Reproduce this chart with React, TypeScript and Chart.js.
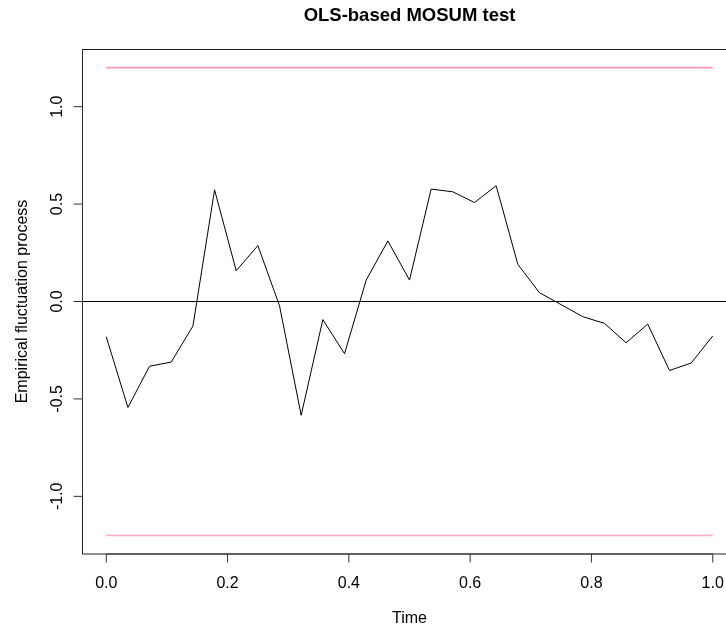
import React, { useEffect, useRef } from "react";
import { Chart, registerables } from "chart.js";

Chart.register(...registerables);

const timePoints: number[] = [
  0.0, 0.0357, 0.0714, 0.1071, 0.1429, 0.1786, 0.2143, 0.25, 0.2857, 0.3214,
  0.3571, 0.3929, 0.4286, 0.4643, 0.5, 0.5357, 0.5714, 0.6071, 0.6429, 0.6786,
  0.7143, 0.75, 0.7857, 0.8214, 0.8571, 0.8929, 0.9286, 0.9643, 1.0,
];
const fluctuation: number[] = [
  -0.181, -0.544, -0.332, -0.311, -0.126, 0.573, 0.158, 0.287, -0.022, -0.584,
  -0.093, -0.268, 0.11, 0.311, 0.11, 0.577, 0.563, 0.508, 0.594, 0.191,
  0.045, -0.016, -0.078, -0.112, -0.212, -0.116, -0.354, -0.316, -0.177,
];
const boundary = 1.2;
const xTicks: number[] = [0, 0.2, 0.4, 0.6, 0.8, 1.0];
const yTicks: number[] = [-1.0, -0.5, 0.0, 0.5, 1.0];
const xRange: [number, number] = [-0.04, 1.04];
const yRange: [number, number] = [-1.296, 1.296];

const titleText = "OLS-based MOSUM test";
const xTitle = "Time";
const yTitle = "Empirical fluctuation process";

const CANVAS_W = 790;
const CANVAS_H = 627;
const FONT = "'Liberation Sans', Arial, Helvetica, sans-serif";

const axesPlugin = {
  id: "rAxes",
  afterDraw(chart: any) {
    const { ctx, chartArea, scales } = chart;
    const xs = scales.x;
    const ys = scales.y;
    const L = Math.round(chartArea.left) + 0.5;
    const T = Math.round(chartArea.top) + 0.5;
    const R = Math.round(chartArea.right) + 0.5;
    const B = Math.round(chartArea.bottom);
    ctx.save();
    ctx.strokeStyle = "#222";
    ctx.lineWidth = 1;
    ctx.strokeRect(L, T, R - L, B - T);

    ctx.strokeStyle = "#333";
    ctx.beginPath();
    const x0 = xs.getPixelForValue(xTicks[0]);
    const x1 = xs.getPixelForValue(xTicks[xTicks.length - 1]);
    ctx.moveTo(x0, B);
    ctx.lineTo(x1, B);
    xTicks.forEach((v) => {
      const px = xs.getPixelForValue(v);
      ctx.moveTo(px, B);
      ctx.lineTo(px, B + 8.5);
    });
    const y0 = ys.getPixelForValue(yTicks[0]);
    const y1 = ys.getPixelForValue(yTicks[yTicks.length - 1]);
    ctx.moveTo(L, y0);
    ctx.lineTo(L, y1);
    yTicks.forEach((v) => {
      const py = ys.getPixelForValue(v);
      ctx.moveTo(L, py);
      ctx.lineTo(L - 9, py);
    });
    ctx.stroke();

    ctx.fillStyle = "#000";
    ctx.font = `16px ${FONT}`;
    ctx.textAlign = "center";
    ctx.textBaseline = "alphabetic";
    xTicks.forEach((v) => {
      ctx.fillText(v.toFixed(1), xs.getPixelForValue(v), 588);
    });
    yTicks.forEach((v) => {
      const py = ys.getPixelForValue(v);
      ctx.save();
      ctx.translate(61.7, py);
      ctx.rotate(-Math.PI / 2);
      ctx.fillText(v.toFixed(1), 0, 0);
      ctx.restore();
    });

    ctx.fillText(xTitle, (chartArea.left + chartArea.right) / 2, 623);
    ctx.save();
    ctx.translate(26.5, (chartArea.top + chartArea.bottom) / 2);
    ctx.rotate(-Math.PI / 2);
    ctx.fillText(yTitle, 0, 0);
    ctx.restore();

    ctx.font = `bold 18.5px ${FONT}`;
    ctx.fillText(titleText, (chartArea.left + chartArea.right) / 2, 20.7);
    ctx.restore();
  },
};

export default function App() {
  const ref = useRef<HTMLCanvasElement | null>(null);
  useEffect(() => {
    document.body.style.margin = "0";
    const canvas = ref.current;
    if (!canvas) return;
    const mainData = timePoints.map((t, i) => ({ x: t, y: fluctuation[i] }));
    const upper = [
      { x: timePoints[0], y: boundary },
      { x: timePoints[timePoints.length - 1], y: boundary },
    ];
    const lower = [
      { x: timePoints[0], y: -boundary },
      { x: timePoints[timePoints.length - 1], y: -boundary },
    ];
    const zero = [
      { x: xRange[0], y: 0 },
      { x: xRange[1], y: 0 },
    ];
    const chart = new Chart(canvas, {
      type: "scatter",
      data: {
        datasets: [
          {
            data: zero,
            showLine: true,
            borderColor: "#000",
            borderWidth: 1,
            pointRadius: 0,
          },
          {
            data: upper,
            showLine: true,
            borderColor: "#F59AB0",
            borderWidth: 1.8,
            pointRadius: 0,
          },
          {
            data: lower,
            showLine: true,
            borderColor: "#F7B3C3",
            borderWidth: 1.8,
            pointRadius: 0,
          },
          {
            data: mainData,
            showLine: true,
            borderColor: "#000",
            borderWidth: 1,
            pointRadius: 0,
            tension: 0,
          },
        ],
      },
      options: {
        responsive: false,
        animation: false,
        layout: {
          padding: { left: 82, top: 49, right: CANVAS_W - 737, bottom: CANVAS_H - 554 },
        },
        plugins: {
          legend: { display: false },
          tooltip: { enabled: false },
          title: { display: false },
        },
        scales: {
          x: { type: "linear", min: xRange[0], max: xRange[1], display: false },
          y: { type: "linear", min: yRange[0], max: yRange[1], display: false },
        },
      },
      plugins: [axesPlugin],
    });
    return () => chart.destroy();
  }, []);
  return (
    <div style={{ width: 726, height: 627, overflow: "hidden", position: "relative", background: "#fff" }}>
      <canvas ref={ref} width={CANVAS_W} height={CANVAS_H} style={{ display: "block", width: CANVAS_W, height: CANVAS_H }} />
    </div>
  );
}
